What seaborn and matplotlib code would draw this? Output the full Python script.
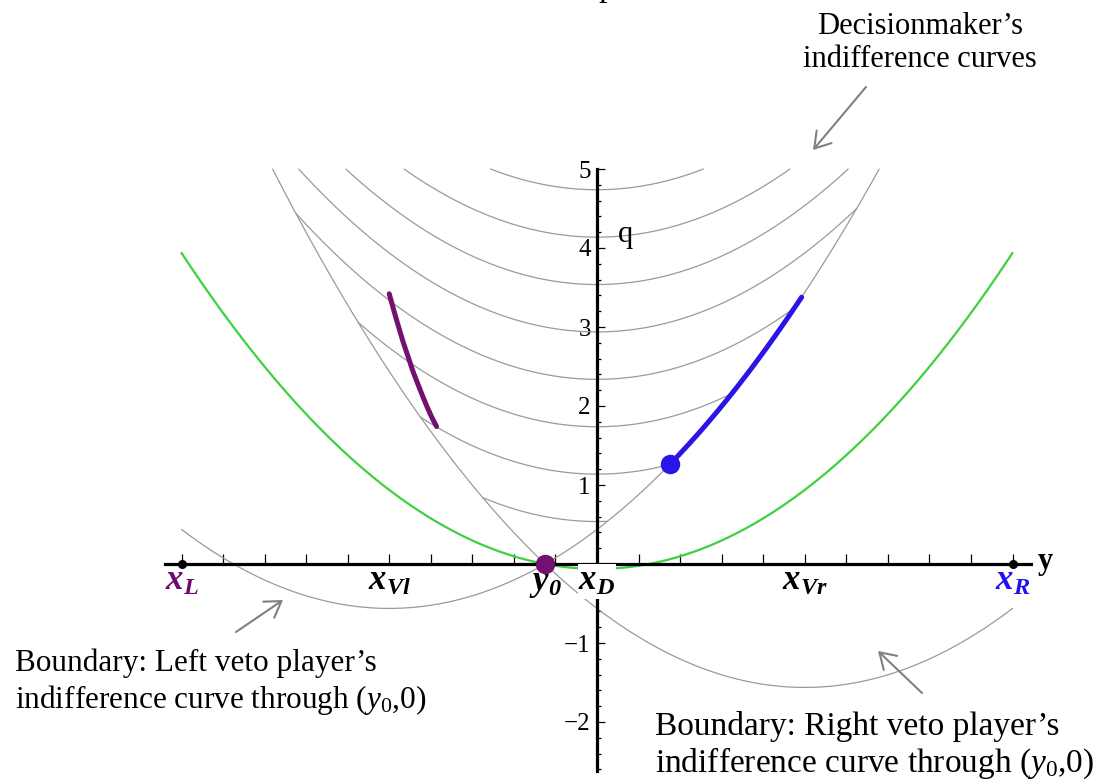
import numpy as np
import pandas as pd
import matplotlib
matplotlib.use("Agg")
import matplotlib.pyplot as plt
import seaborn as sns

# ---------------- model quantities ----------------
# ideal points on the policy line (y)
POINT_NAMES = ["L", "Vl", "0", "D", "Vr", "R"]
POINT_POS = [-1.0, -0.5, -0.125, 0.0, 0.5, 1.0]
POINT_COLORS = ["#6e0a6e", "black", "black", "black", "black", "#1f10f0"]
Y0 = -0.125

# indifference curves are parabolas q = k*(y - ideal)^2 + level
CURVATURE = 4.0
DM_LEVELS = [0.5375, 1.1375, 1.7375, 2.3375, 2.9375, 3.5375, 4.1375, 4.7375]
DM_LEVEL_THROUGH_Y0 = -0.0625
VETO_IDEALS = [-0.5, 0.5]
VETO_LEVELS = [-0.5625, -1.5625]
Q_TOP = 5.0

# purple locus (left side)
PURPLE_Y = [-0.500, -0.489, -0.478, -0.466, -0.455, -0.443, -0.432,
            -0.420, -0.409, -0.397, -0.386]
PURPLE_Q = [3.42, 3.21, 3.01, 2.80, 2.63, 2.44, 2.29, 2.13, 1.99, 1.85, 1.74]

# blue segment along the left veto player's curve
BLUE_Y_RANGE = [0.175, 0.493]

# axis ticks
Q_MAJOR = [-2, -1, 1, 2, 3, 4, 5]

# ---------------- styling ----------------
sns.set_theme(style="white")
plt.rcParams["font.family"] = ["Liberation Serif", "DejaVu Serif"]
plt.rcParams["text.color"] = "black"
plt.rcParams["xtick.color"] = "black"
plt.rcParams["ytick.color"] = "black"
plt.rcParams["mathtext.fontset"] = "custom"
plt.rcParams["mathtext.rm"] = "Liberation Serif"
plt.rcParams["mathtext.it"] = "Liberation Serif:italic"
plt.rcParams["mathtext.bf"] = "Liberation Serif:bold"
plt.rcParams["mathtext.bfit"] = "Liberation Serif:italic:bold"

W, H = 1097, 784
fig = plt.figure(figsize=(W / 100, H / 100), dpi=100)
ax = fig.add_axes([0, 0, 1, 1])
ax.set_facecolor("white")

# pixel geometry of the diagram: origin at (597, 564)
PX_PER_Y, PX_PER_Q = 415.5, 79.0
X0_PX, Q0_PX = 597.0, 564.0
ax.set_xlim(-X0_PX / PX_PER_Y, (W - X0_PX) / PX_PER_Y)
ax.set_ylim(-(H - Q0_PX) / PX_PER_Q, Q0_PX / PX_PER_Q)


def parab(y, ideal, level):
    return CURVATURE * (y - ideal) ** 2 + level


ys = np.linspace(-1.0, 1.0, 4001)
left_v = parab(ys, VETO_IDEALS[0], VETO_LEVELS[0])
right_v = parab(ys, VETO_IDEALS[1], VETO_LEVELS[1])

GRAY = "#9a9a9a"
frames = []
for i, c in enumerate(DM_LEVELS):
    q = parab(ys, 0.0, c)
    m = (q <= Q_TOP) & (q >= left_v - 1e-9) & (q >= right_v - 1e-9)
    frames.append(pd.DataFrame({"y": ys[m], "q": q[m], "curve": f"dm{i}"}))
for name, vals in (("left veto", left_v), ("right veto", right_v)):
    m = vals <= Q_TOP
    frames.append(pd.DataFrame({"y": ys[m], "q": vals[m], "curve": name}))
gray_df = pd.concat(frames, ignore_index=True)

sns.lineplot(data=gray_df, x="y", y="q", units="curve", estimator=None,
             sort=False, color=GRAY, lw=0.9, ax=ax, legend=False)

# decisionmaker's curve through (y0, 0)
green_df = pd.DataFrame({"y": ys, "q": parab(ys, 0.0, DM_LEVEL_THROUGH_Y0)})
sns.lineplot(data=green_df, x="y", y="q", sort=False, color="#3fd03f",
             lw=1.6, ax=ax, legend=False)

# blue segment
bm = (ys >= BLUE_Y_RANGE[0]) & (ys <= BLUE_Y_RANGE[1])
blue_df = pd.DataFrame({"y": ys[bm], "q": left_v[bm]})
sns.lineplot(data=blue_df, x="y", y="q", sort=False, color="#2a14e6",
             lw=3.6, ax=ax, legend=False, zorder=4)

# purple segment
purple_df = pd.DataFrame({"y": PURPLE_Y, "q": PURPLE_Q})
sns.lineplot(data=purple_df, x="y", y="q", sort=False, color="#74106f",
             lw=3.6, ax=ax, legend=False, zorder=4)

# dots
ax.plot([BLUE_Y_RANGE[0]], [parab(BLUE_Y_RANGE[0], VETO_IDEALS[0], VETO_LEVELS[0])],
        "o", ms=13, color="#2a14e6", zorder=6)
ax.plot([Y0], [0], "o", ms=13, color="#74106f", zorder=6)
ax.plot([POINT_POS[0], POINT_POS[-1]], [0, 0], "o", ms=5.5, color="black", zorder=6)

# axes through the origin
for s in ("top", "right"):
    ax.spines[s].set_visible(False)
ax.spines["bottom"].set_position(("data", 0))
ax.spines["left"].set_position(("data", 0))
ax.spines["bottom"].set_bounds(-1.04, 1.045)
ax.spines["left"].set_bounds(-2.62, 5.0)
for s in ("bottom", "left"):
    ax.spines[s].set_linewidth(2.3)
    ax.spines[s].set_color("black")
    ax.spines[s].set_zorder(3)

ax.set_xticks(np.round(np.arange(-1.0, 1.0001, 0.1), 2))
ax.set_xticklabels([])
ax.set_yticks(Q_MAJOR)
ax.set_yticklabels([f"{v}".replace("-", "\u2212") for v in Q_MAJOR])
ax.set_yticks(np.round(np.arange(-2.6, 5.0001, 0.2), 2), minor=True)
ax.tick_params(axis="x", direction="in", length=7.2, width=0.9, color="black",
               bottom=True)
ax.tick_params(axis="y", which="major", direction="in", length=5.8, width=0.9,
               color="black", left=True, labelsize=18, pad=4.5,
               labelcolor="black")
ax.tick_params(axis="y", which="minor", direction="in", length=2.9, width=0.9,
               color="black", left=True)
ax.set_xlabel("")
ax.set_ylabel("")
ax.grid(False)

# point labels under the axis
for name, pos, col in zip(POINT_NAMES, POINT_POS, POINT_COLORS):
    base = "y" if name == "0" else "x"
    label = rf"$\mathbfit{{{base}}}_{{\mathbfit{{{name}}}}}$"
    kw = {}
    if name == "D":
        kw["bbox"] = dict(facecolor="white", edgecolor="none", pad=0.5)
    ax.text(pos, -0.33, label, ha="center", va="baseline", fontsize=25,
            color=col, zorder=5, **kw)

ax.text(1.078, -0.063, "y", ha="center", va="baseline", fontsize=22,
        fontweight="bold", color="black")
ax.text(0.068, 4.08, "q", ha="center", va="baseline", fontsize=22,
        color="black")


# annotations (figure pixel positions)
def fp(x, y):
    return (x, H - y)


fig.text(598 / W, 1 + 4 / H, "p", ha="left", va="baseline", fontsize=24,
         color="black")

fig.text(920 / W, 1 - 43 / H, "Decisionmaker\u2019s\nindifference curves",
         ha="center", va="center", fontsize=22, linespacing=1.2, color="black")
fig.text(15 / W, 1 - 683 / H,
         "Boundary: Left veto player\u2019s\nindifference curve through ($\\mathit{y_0}$,0)",
         ha="left", va="center", fontsize=22.5, linespacing=1.2, color="black")
fig.text(655 / W, 1 - 746 / H,
         "Boundary: Right veto player\u2019s\nindifference curve through ($\\mathit{y_0}$,0)",
         ha="left", va="center", fontsize=24, linespacing=1.15, color="black")

arrow_kw = dict(arrowstyle="->,head_length=0.55,head_width=0.35",
                color="#808080", lw=1.5, shrinkA=0, shrinkB=0,
                mutation_scale=20)
for tail, tip in (((866, 87), (813, 150)),
                  ((236, 632), (283, 600)),
                  ((922, 693), (878, 651))):
    ax.annotate("", xy=fp(*tip), xycoords="figure pixels",
                xytext=fp(*tail), textcoords="figure pixels",
                arrowprops=arrow_kw)

fig.savefig("out.png", dpi=100, facecolor="white")
